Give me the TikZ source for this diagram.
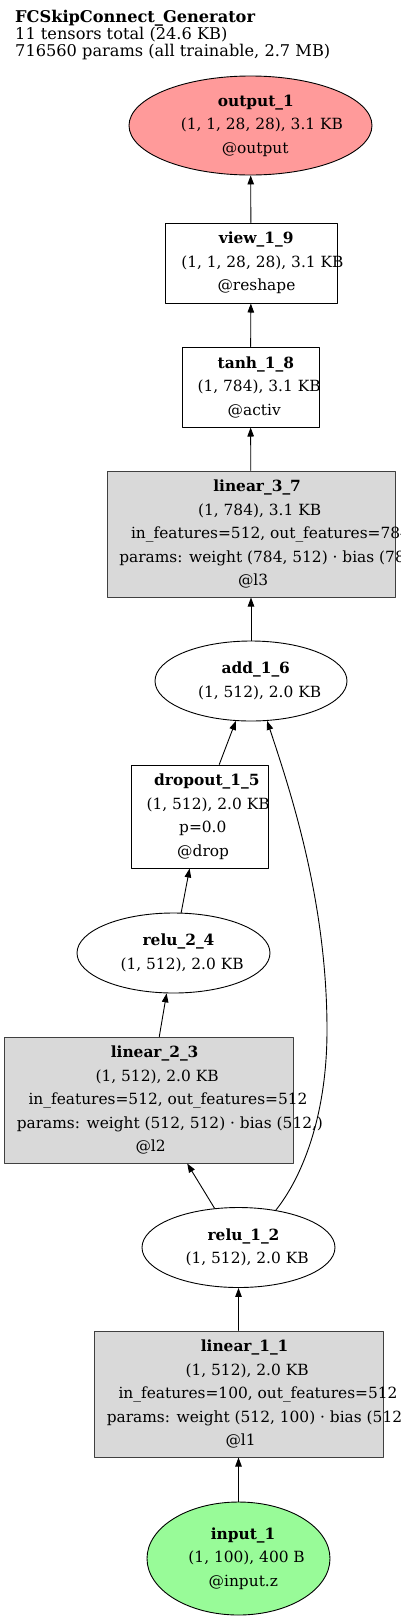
\documentclass[tikz,border=0pt]{standalone}
\usepackage{fontspec}
\setmainfont{DejaVu Serif}
\usetikzlibrary{shapes.geometric,arrows.meta}
\newsavebox\gvbox
\newcommand\gvline[1]{\sbox\gvbox{#1}\makebox[0.86\wd\gvbox][l]{\usebox\gvbox}}
\definecolor{outred}{HTML}{FF9A9A}
\definecolor{ingreen}{HTML}{98FB98}
\definecolor{lingray}{HTML}{D9D9D9}
\definecolor{linedge}{HTML}{404040}
\begin{document}
\begin{tikzpicture}[x=1pt, y=-1pt, line join=round, line cap=round, >={Triangle[length=9pt,width=6.5pt]},
	every node/.style={font=\fontsize{15.4}{23.5}\selectfont, align=center, inner sep=0pt},
	opbox/.style 2 args={draw, line width=1pt, rectangle, minimum width=#1, minimum height=#2},
	linbox/.style={opbox={289pt}{126pt}, draw=linedge, fill=lingray},
	tensor/.style 2 args={draw, line width=0.9pt, ellipse, minimum width=#1, minimum height=#2}]
	\useasboundingbox (0,0) rectangle (400,1620);
	\path
	(250.5,125.5) coordinate (O)
	(251,263) coordinate (V)
	(250.5,387) coordinate (T)
	(251,534) coordinate (L3)
	(251,681) coordinate (A)
	(199.5,816.5) coordinate (D)
	(173.5,953) coordinate (R2)
	(148.5,1100) coordinate (L2)
	(238.5,1247.5) coordinate (R1)
	(238.5,1394) coordinate (L1)
	(238.5,1558.5) coordinate (I)
	;
	\node[anchor=north west, align=left, font=\fontsize{16.2}{17}\selectfont] (title) at (15,10)
	{\textbf{FCSkipConnect\_Generator}\\11 tensors total (24.6 KB)\\716560 params (all trainable, 2.7 MB)};
	\node[tensor={243pt}{99pt}, fill=outred] (out1) at (O)
	{\gvline{\textbf{output\_1}}\\\gvline{(1, 1, 28, 28), 3.1 KB}\\\gvline{@output}};
	\node[opbox={172pt}{80pt}] (view) at (V)
	{\gvline{\textbf{view\_1\_9}}\\\gvline{(1, 1, 28, 28), 3.1 KB}\\\gvline{@reshape}};
	\node[opbox={137pt}{80pt}] (tanh) at (T)
	{\gvline{\textbf{tanh\_1\_8}}\\\gvline{(1, 784), 3.1 KB}\\\gvline{@activ}};
	\node[linbox, minimum width=288pt] (lin3) at (L3)
	{\gvline{\textbf{linear\_3\_7}}\\\gvline{(1, 784), 3.1 KB}\\\gvline{in\_features=512, out\_features=784}\\\gvline{params: weight (784, 512) · bias (784,)}\\\gvline{@l3}};
	\node[tensor={192pt}{80pt}] (add) at (A)
	{\gvline{\textbf{add\_1\_6}}\\\gvline{(1, 512), 2.0 KB}};
	\node[opbox={137pt}{103pt}] (drop) at (D)
	{\gvline{\textbf{dropout\_1\_5}}\\\gvline{(1, 512), 2.0 KB}\\\gvline{p=0.0}\\\gvline{@drop}};
	\node[tensor={193pt}{80pt}] (relu2) at (R2)
	{\gvline{\textbf{relu\_2\_4}}\\\gvline{(1, 512), 2.0 KB}};
	\node[linbox] (lin2) at (L2)
	{\gvline{\textbf{linear\_2\_3}}\\\gvline{(1, 512), 2.0 KB}\\\gvline{in\_features=512, out\_features=512}\\\gvline{params: weight (512, 512) · bias (512,)}\\\gvline{@l2}};
	\node[tensor={193pt}{80pt}] (relu1) at (R1)
	{\gvline{\textbf{relu\_1\_2}}\\\gvline{(1, 512), 2.0 KB}};
	\node[linbox] (lin1) at (L1)
	{\gvline{\textbf{linear\_1\_1}}\\\gvline{(1, 512), 2.0 KB}\\\gvline{in\_features=100, out\_features=512}\\\gvline{params: weight (512, 100) · bias (512,)}\\\gvline{@l1}};
	\node[tensor={183pt}{113pt}, fill=ingreen] (in1) at (I)
	{\gvline{\textbf{input\_1}}\\\gvline{(1, 100), 400 B}\\\gvline{@input.z}};
	\foreach \a/\b in {in1/lin1,lin1/relu1,relu1/lin2,lin2/relu2,relu2/drop,drop/add,add/lin3,lin3/tanh,tanh/view,view/out1}
	\draw[->, line width=0.9pt] (\a)--(\b);
	% skip connection
	\draw[->, line width=0.9pt] (relu1.45)
	.. controls (300,1180) and (327,1120) .. (327,1030)
	.. controls (327,900) and (290,790) .. (add.-68);
\end{tikzpicture}
\end{document}
